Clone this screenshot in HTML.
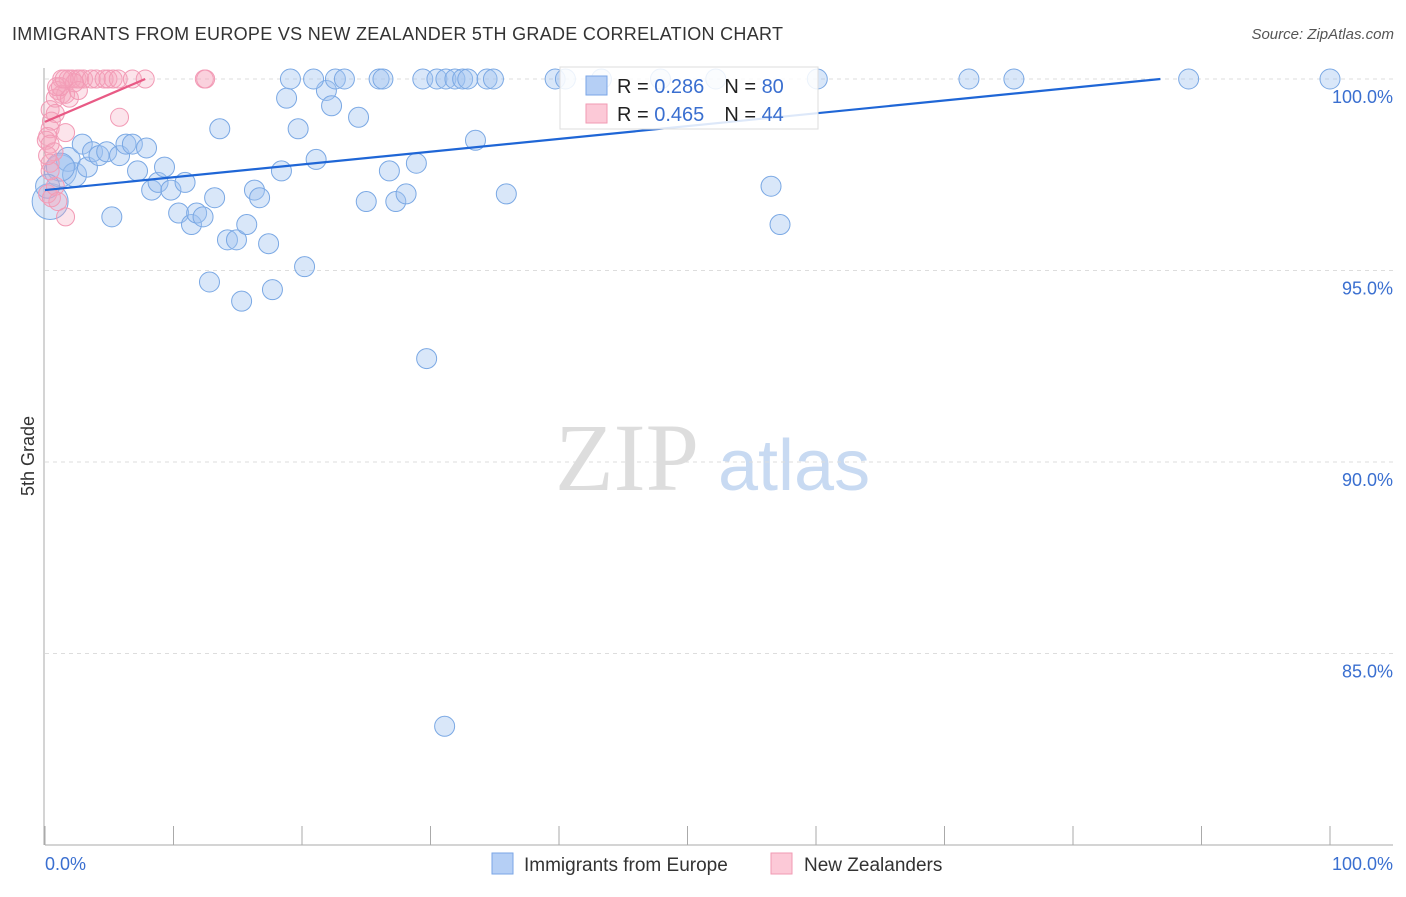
<!DOCTYPE html>
<html><head><meta charset="utf-8"><style>
body{margin:0;background:#fff;font-family:"Liberation Sans",sans-serif;}
</style></head><body>
<svg id="c" width="1406" height="892" xmlns="http://www.w3.org/2000/svg">
<text x="12" y="40" font-size="18" fill="#333" textLength="771">IMMIGRANTS FROM EUROPE VS NEW ZEALANDER 5TH GRADE CORRELATION CHART</text>
<text x="1394" y="39" font-size="15" fill="#555" font-style="italic" text-anchor="end">Source: ZipAtlas.com</text>
<text x="555" y="490" font-size="96" fill="#ddd" font-family="Liberation Serif,serif">ZIP</text>
<text x="718" y="490" font-size="72" fill="#c8daf2">atlas</text>
<text transform="translate(34,456) rotate(-90)" font-size="18" fill="#333" text-anchor="middle">5th Grade</text>
<g id="grid"></g><g id="pts"></g><g id="trend"></g>
<g>
<rect x="560" y="67" width="258" height="62" fill="#fff" fill-opacity="0.85" stroke="#ddd"/>
<rect x="586" y="76" width="21" height="19" fill="#b5cff5" stroke="#7aa6e6"/>
<rect x="586" y="104" width="21" height="19" fill="#fcc9d7" stroke="#f19ab3"/>
<text x="617" y="93" font-size="20" fill="#222">R = <tspan fill="#3a6fd0">0.286</tspan><tspan dx="20">N = </tspan><tspan fill="#3a6fd0">80</tspan></text>
<text x="617" y="121" font-size="20" fill="#222">R = <tspan fill="#3a6fd0">0.465</tspan><tspan dx="20">N = </tspan><tspan fill="#3a6fd0">44</tspan></text>
</g>
<g>
<rect x="492" y="853" width="21" height="21" fill="#b5cff5" stroke="#7aa6e6"/>
<text x="524" y="871" font-size="19" fill="#333">Immigrants from Europe</text>
<rect x="771" y="853" width="21" height="21" fill="#fcc9d7" stroke="#f19ab3"/>
<text x="804" y="871" font-size="19" fill="#333">New Zealanders</text>
</g>
</svg>
<script>
const blueX=[0.4,1.2,1.8,2.3,3.3,2.9,3.7,4.2,4.8,5.8,6.3,6.8,7.9,5.2,7.2,8.3,8.8,9.3,9.8,10.9,10.4,11.4,11.8,12.3,13.2,13.6,14.2,14.9,12.8,15.3,15.7,16.3,16.7,17.4,17.7,18.4,18.8,19.7,20.2,21.1,21.9,22.3,24.4,25.0,26.8,27.3,28.1,28.9,29.7,31.1,33.5,35.9,56.5,57.2,1.2,0.2,
19.1,20.9,22.6,23.3,26.0,26.3,29.4,30.5,31.2,31.9,32.5,32.9,34.4,34.9,39.7,40.5,43.3,47.9,52.2,60.1,71.9,75.4,89.0,100];
const blueY=[96.8,97.6,97.9,97.5,97.7,98.3,98.1,98.0,98.1,98.0,98.3,98.3,98.2,96.4,97.6,97.1,97.3,97.7,97.1,97.3,96.5,96.2,96.5,96.4,96.9,98.7,95.8,95.8,94.7,94.2,96.2,97.1,96.9,95.7,94.5,97.6,99.5,98.7,95.1,97.9,99.7,99.3,99.0,96.8,97.6,96.8,97.0,97.8,92.7,83.1,98.4,97.0,97.2,96.2,97.7,97.2,
100,100,100,100,100,100,100,100,100,100,100,100,100,100,100,100,100,100,100,100,100,100,100,100];
const blueR=[18,16,12,12,10,10,10,10,10,10,10,10,10,10,10,10,10,10,10,10,10,10,10,10,10,10,10,10,10,10,10,10,10,10,10,10,10,10,10,10,10,10,10,10,10,10,10,10,10,10,10,10,10,10,14,12,
10,10,10,10,10,10,10,10,10,10,10,10,10,10,10,10,10,10,10,10,10,10,10,10];
const pinkX=[1.3,1.8,2.1,2.5,2.7,3.0,3.6,4.0,4.6,4.9,5.3,5.7,6.8,7.8,12.4,12.5,1.0,1.3,1.6,0.8,1.9,2.6,1.2,0.4,0.8,0.5,0.4,0.2,0.1,0.7,0.4,0.2,0.5,0.8,1.6,5.8,1.6,0.4,0.9,2.3,1.5,0.4,1.0,0.2];
const pinkY=[100,100,100,100,100,100,100,100,100,100,100,100,100,100,100,100,99.7,99.6,99.6,99.5,99.5,99.7,99.8,99.2,99.1,98.9,98.7,98.5,98.4,98.1,97.8,97.0,96.9,97.2,96.4,99.0,98.6,98.3,99.8,99.9,100,97.6,96.8,98.0];
const blueTrend=[[0,97.1],[86.8,100]];
const pinkTrend=[[0,98.88],[7.8,100]];
const yTicks=[100,95,90,85];
const yTickLabels=["100.0%","95.0%","90.0%","85.0%"];
const xTickVals=[0,10,20,30,40,50,60,70,80,90,100];
const X=v=>45+v*12.85, Y=v=>79+(100-v)*38.3;
const NS="http://www.w3.org/2000/svg";
function mk(t,a,p){const e=document.createElementNS(NS,t);for(const k in a)e.setAttribute(k,a[k]);p.appendChild(e);return e;}
const g=document.getElementById('grid');
yTicks.forEach((t,i)=>{
 const l=mk('line',{x1:45,x2:1393,y1:Y(t),y2:Y(t),stroke:'#ddd','stroke-dasharray':'4,4'},g);
 
 
 const tx=mk('text',{x:1393,y:Y(t)+24,'font-size':18,fill:'#3a6fd0','text-anchor':'end'},g);
 tx.textContent=yTickLabels[i];
 
 
});
const ax=mk('line',{x1:44,x2:44,y1:68,y2:845,stroke:'#aaa'},g);


const bx=mk('line',{x1:45,x2:1393,y1:845,y2:845,stroke:'#aaa'},g);


xTickVals.forEach(v=>{
 const t=mk('line',{x1:X(v),x2:X(v),y1:826,y2:845,stroke:'#aaa'},g);
 
 
});
const xl0=mk('text',{x:45,y:870,'font-size':18,fill:'#3a6fd0'},g);xl0.textContent="0.0%";


const xl1=mk('text',{x:1393,y:870,'font-size':18,fill:'#3a6fd0','text-anchor':'end'},g);xl1.textContent="100.0%";


const p=document.getElementById('pts');
blueX.forEach((v,i)=>{
 const c=mk('circle',{cx:X(v),cy:Y(blueY[i]),r:blueR[i],fill:'rgba(160,196,240,0.4)',stroke:'#7aa8e4','stroke-width':1},p);
 
 
});
pinkX.forEach((v,i)=>{
 const c=mk('circle',{cx:X(v),cy:Y(pinkY[i]),r:9,fill:'rgba(245,165,190,0.3)',stroke:'#f29ab5','stroke-width':1},p);
 
 
});
const tr=document.getElementById('trend');
const b=mk('line',{x1:X(blueTrend[0][0]),y1:Y(blueTrend[0][1]),x2:X(blueTrend[1][0]),y2:Y(blueTrend[1][1]),stroke:'#1f66d6','stroke-width':2.2},tr);


const pk=mk('line',{x1:X(pinkTrend[0][0]),y1:Y(pinkTrend[0][1]),x2:X(pinkTrend[1][0]),y2:Y(pinkTrend[1][1]),stroke:'#e85a85','stroke-width':2.2},tr);


</script>
</body></html>
